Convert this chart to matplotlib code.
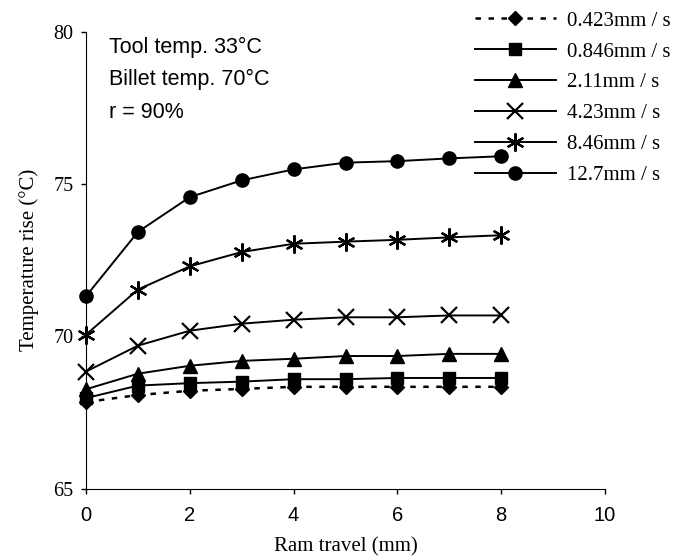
import matplotlib
matplotlib.use('Agg')
from matplotlib import pyplot as plt

# Ram travel (mm)
ram_travel = [0, 1, 2, 3, 4, 5, 6, 7, 8]

# temperature rise for each ram speed
temp_0423 = [67.85, 68.08, 68.22, 68.28, 68.35, 68.35, 68.35, 68.35, 68.35]
temp_0846 = [67.98, 68.39, 68.47, 68.52, 68.60, 68.60, 68.64, 68.64, 68.64]
temp_211 = [68.27, 68.78, 69.04, 69.20, 69.27, 69.36, 69.36, 69.43, 69.43]
temp_423 = [68.85, 69.70, 70.19, 70.42, 70.55, 70.63, 70.63, 70.69, 70.69]
temp_846 = [70.06, 71.54, 72.30, 72.77, 73.04, 73.11, 73.17, 73.25, 73.32]
temp_127 = [71.32, 73.43, 74.57, 75.12, 75.48, 75.70, 75.75, 75.84, 75.91]

labels = ['0.423mm / s', '0.846mm / s', '2.11mm / s', '4.23mm / s', '8.46mm / s', '12.7mm / s']
x_ticks = [0, 2, 4, 6, 8, 10]
y_ticks = [65, 70, 75, 80]

serif = 'Liberation Serif'
sans = 'Liberation Sans'

fig = plt.figure(figsize=(6.88, 5.58), dpi=100)
ax = fig.add_axes([0.125, 0.1237, 0.7544, 0.8198])

lw = 1.4
ax.plot(ram_travel, temp_0423, color='black', linestyle=(0, (2.2, 3)), linewidth=1.8,
        marker='D', markersize=7.5, label=labels[0])
ax.plot(ram_travel, temp_0846, color='black', linewidth=lw, marker='s', markersize=8.6, label=labels[1])
ax.plot(ram_travel, temp_211, color='black', linewidth=lw, marker='^', markersize=10.5, label=labels[2])
ax.plot(ram_travel, temp_423, color='black', linewidth=lw, marker='x', markersize=11,
        markeredgewidth=1.6, label=labels[3])
ax.plot(ram_travel, temp_846, color='black', linewidth=lw, marker=(6, 2, 0), markersize=13,
        markeredgewidth=1.6, label=labels[4])
ax.plot(ram_travel, temp_127, color='black', linewidth=lw, marker='o', markersize=9.5, label=labels[5])

ax.set_xlim(0, 10)
ax.set_ylim(65, 80)
ax.set_xticks(x_ticks)
ax.set_yticks(y_ticks)
ax.set_xticklabels([str(t) for t in x_ticks], fontfamily=sans, fontsize=14.5)
ax.set_yticklabels([str(t) for t in y_ticks], fontfamily=serif, fontsize=14.5)
ax.tick_params(direction='out', length=3.6, width=1, colors='black')
ax.tick_params(axis='x', pad=8.5)
ax.tick_params(axis='y', pad=5.5)
ax.spines['top'].set_visible(False)
ax.spines['right'].set_visible(False)
for line in ax.lines:
    line.set_clip_on(False)

ax.set_xlabel('Ram travel (mm)', fontfamily=serif, fontsize=15, labelpad=9)
ax.set_ylabel('Temperature rise (°C)', fontfamily=serif, fontsize=15, labelpad=10)

ax.text(0.044, 0.952, 'Tool temp. 33°C', transform=ax.transAxes, fontfamily=sans, fontsize=15.5)
ax.text(0.044, 0.883, 'Billet temp. 70°C', transform=ax.transAxes, fontfamily=sans, fontsize=15.5)
ax.text(0.044, 0.810, 'r = 90%', transform=ax.transAxes, fontfamily=sans, fontsize=15.5)

ax.legend(loc='upper left', bbox_to_anchor=(0.690, 0.980), bbox_transform=fig.transFigure,
          frameon=False, prop={'family': serif, 'size': 15}, handlelength=3.9,
          handletextpad=0.53, labelspacing=0.54, borderpad=0, borderaxespad=0)

plt.savefig('out.png', dpi=100)
